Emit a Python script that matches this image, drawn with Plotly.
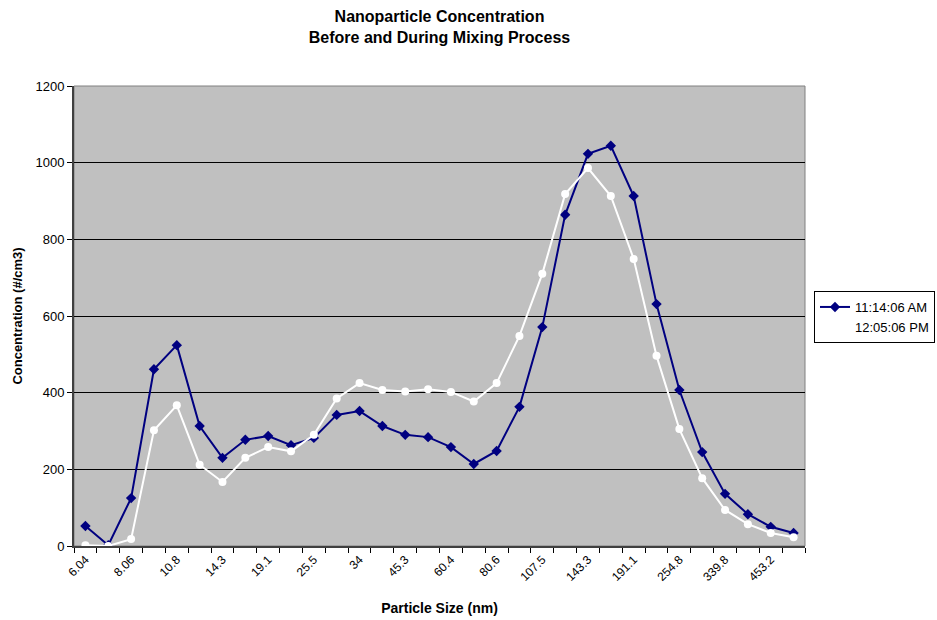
import plotly.graph_objects as go

sizes = ["6.04", "6.98", "8.06", "9.31", "10.8", "12.4", "14.3", "16.5", "19.1", "22.1",
         "25.5", "29.4", "34", "39.2", "45.3", "52.3", "60.4", "69.8", "80.6", "93.1",
         "107.5", "124.1", "143.3", "165.5", "191.1", "220.7", "254.8", "294.3", "339.8",
         "392.4", "453.2", "523.3"]
series_am = [52, 2, 125, 461, 524, 313, 230, 277, 287, 263,
             282, 342, 352, 313, 290, 284, 258, 214, 248, 363,
             571, 864, 1023, 1044, 913, 631, 407, 245, 136, 83, 50, 34]
series_pm = [2, 0, 18, 302, 367, 212, 167, 230, 258, 247,
             290, 385, 425, 407, 403, 409, 402, 377, 425, 548,
             710, 918, 986, 913, 749, 496, 305, 177, 94, 57, 34, 23]
name_am = "11:14:06 AM"
name_pm = "12:05:06 PM"

idx = list(range(len(sizes)))
FONT = "Arial, Liberation Sans, sans-serif"

fig = go.Figure()
fig.add_trace(go.Scatter(x=idx, y=series_am, name=name_am, mode="lines+markers",
                         line=dict(color="#000080", width=2),
                         marker=dict(symbol="diamond", size=8, color="#000080")))
fig.add_trace(go.Scatter(x=idx, y=series_pm, name=name_pm, mode="lines+markers",
                         line=dict(color="#FFFFFF", width=2),
                         marker=dict(symbol="circle", size=8, color="#FFFFFF")))

fig.update_layout(
    width=937, height=620,
    margin=dict(l=74, r=132, t=86, b=74, autoexpand=False),
    paper_bgcolor="white", plot_bgcolor="#C0C0C0",
    font=dict(family=FONT, size=13, color="black"),
    title=dict(text="<b>Nanoparticle Concentration<br>Before and During Mixing Process</b>",
               x=0.5, xanchor="center", xref="paper", yref="container",
               y=1 - 22 / 620, yanchor="middle",
               font=dict(family=FONT, size=16, color="black")),
    legend=dict(xref="container", yref="container",
                x=814 / 937, y=1 - 317 / 620, xanchor="left", yanchor="middle",
                bordercolor="black", borderwidth=1, bgcolor="white",
                font=dict(family=FONT, size=13, color="black"),
                tracegroupgap=0, itemwidth=30),
    showlegend=True,
)
fig.update_xaxes(
    range=[-0.5, len(sizes) - 0.5], automargin=False,
    tickmode="array", tickvals=idx[::2], ticktext=sizes[::2],
    tickangle=-45, ticks="", showgrid=False, zeroline=False,
    showline=True, linecolor="#404040", linewidth=2, mirror=False,
    tickfont=dict(family=FONT, size=12),
    minor=dict(ticks="outside", tick0=-0.5, dtick=1, ticklen=5, tickcolor="black", showgrid=False),
    title=dict(text="<b>Particle Size (nm)</b>", font=dict(family=FONT, size=14), standoff=20),
)
fig.update_yaxes(
    range=[0, 1200], tickvals=[0, 200, 400, 600, 800, 1000, 1200], automargin=False,
    ticks="outside", ticklen=5, tickcolor="black",
    showgrid=True, gridcolor="black", gridwidth=1, zeroline=False,
    showline=True, linecolor="#404040", linewidth=2,
    tickfont=dict(family=FONT, size=13),
    title=dict(text="<b>Concentration (#/cm3)</b>", font=dict(family=FONT, size=13), standoff=10),
)
fig.add_shape(type="rect", xref="paper", yref="paper", x0=0, y0=0, x1=1, y1=1,
              line=dict(color="#808080", width=1), layer="below")

post = (
    "document.body.style.margin='0';"
    "document.body.style.overflow='hidden';"
)
fig.write_html("out.html", post_script=post, config={"displayModeBar": False})
